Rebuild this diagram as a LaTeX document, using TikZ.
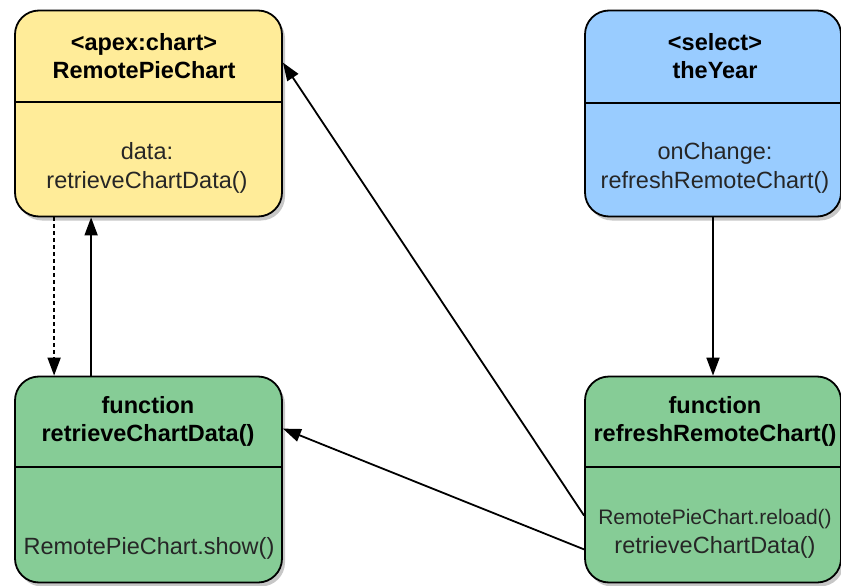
\documentclass[tikz,border=0pt]{standalone}
\usepackage{fontspec}
\setmainfont{Liberation Sans}
\usetikzlibrary{positioning, arrows.meta, shadows}

\definecolor{chartyellow}{RGB}{255,236,153}
\definecolor{selectblue}{RGB}{153,204,255}
\definecolor{funcgreen}{RGB}{134,204,150}

\tikzset{
  umlbox/.style={draw, line width=1.8pt, rounded corners=24pt,
    minimum width=#1, minimum height=206pt, inner sep=0pt,
    drop shadow={shadow xshift=3pt, shadow yshift=-4pt, fill=black, opacity=0.22}},
  divider/.style={line width=1.5pt},
  headtext/.style={font=\bfseries\fontsize{23.5}{28}\selectfont, align=center},
  bodytext/.style={font=\fontsize{23.5}{29}\selectfont, align=center, text=black!85},
  link/.style={line width=1.8pt, -{Triangle[length=18pt,width=13pt]}}
}

\begin{document}
\begin{tikzpicture}[x=1pt, y=-1pt]
  \useasboundingbox (0,0) rectangle (841,586);
  % the four boxes
  \node[umlbox=267pt, fill=chartyellow] (chart) at (148.5,113.5){};
  \node[umlbox=256pt, fill=selectblue] (year) at (713,113.5){};
  \node[umlbox=267pt, fill=funcgreen] (retrieve) at (148.5,479.5){};
  \node[umlbox=256pt, fill=funcgreen] (refresh) at (713,479.5){};
  \draw[divider] (chart.west |- 0,102) -- (chart.east |- 0,102);
  \draw[divider] (year.west |- 0,103) -- (year.east |- 0,103);
  \draw[divider] (retrieve.west |- 0,467) -- (retrieve.east |- 0,467);
  \draw[divider] (refresh.west |- 0,467) -- (refresh.east |- 0,467);
  % texts
  \node[headtext] (charthead) at (144,56){<apex:chart>\\RemotePieChart};
  \node[bodytext] (chartbody) at (147,168){data:\\retrieveChartData()};
  \node[headtext] (yearhead) at (715,56){<select>\\theYear};
  \node[bodytext] (yearbody) at (715,168){onChange:\\refreshRemoteChart()};
  \node[headtext] (retrievehead) at (148,421){function\\retrieveChartData()};
  \node[bodytext] (retrievebody) at (149,548){RemotePieChart.show()};
  \node[headtext] (refreshhead) at (715,421){function\\refreshRemoteChart()};
  \node[bodytext] (refreshbody) at (715,534){{\fontsize{21}{29}\selectfont RemotePieChart.reload()}\\retrieveChartData()};
  % connectors
  \draw[link, dash pattern=on 4pt off 3pt] ([xshift=40pt]chart.south west) -- ([xshift=40pt]retrieve.north west);
  \draw[link] ([xshift=77pt]retrieve.north west) -- ([xshift=77pt]chart.south west);
  \draw[link] (year.south) -- (refresh.north);
  \draw[link] ([yshift=-140pt]refresh.north west) -- ([yshift=-53pt]chart.north east);
  \draw[link] ([yshift=34pt]refresh.south west) -- ([yshift=-53pt]retrieve.north east);
\end{tikzpicture}
\end{document}
